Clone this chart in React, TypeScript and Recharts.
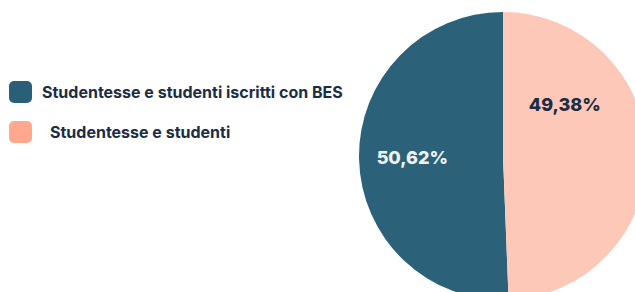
import { Cell, Pie, PieChart } from 'recharts'

const CATEGORIES = ['Studentesse e studenti iscritti con BES', 'Studentesse e studenti']
const SHARES = [50.62, 49.38]
const COLORS = ['#2b627a', '#fec8b8']
const SWATCHES = ['#2b5f78', '#ffa88e']
const LABEL_COLORS = ['#f2f2f2', '#1b2d45']

const data = CATEGORIES.map((name, i) => ({ name, value: SHARES[i] }))

const RAD = Math.PI / 180
const fmt = (v: number) => v.toFixed(2).replace('.', ',') + '%'

function renderLabel(props: any) {
  const { cx, cy, midAngle, outerRadius, index, value } = props
  // the light slice's label sits up and to the right, not on the mid angle
  const angle = index === 0 ? midAngle : 40
  const r = outerRadius * (index === 0 ? 0.63 : 0.56)
  const x = cx + r * Math.cos(angle * RAD)
  const y = cy - r * Math.sin(angle * RAD)
  return (
    <text
      x={x}
      y={y}
      textAnchor="middle"
      dominantBaseline="central"
      fill={LABEL_COLORS[index]}
      fontSize={18}
      fontWeight={800}
      fontFamily="Inter, sans-serif"
    >
      {fmt(value)}
    </text>
  )
}

function LegendList() {
  return (
    <div style={{ position: 'absolute', left: 9, top: 81, fontFamily: 'Inter, sans-serif' }}>
      {CATEGORIES.map((name, i) => (
        <div key={name} style={{ display: 'flex', alignItems: 'center', height: 22, marginBottom: 18 }}>
          <span
            style={{
              width: 23,
              height: 22,
              borderRadius: 5,
              background: SWATCHES[i],
              marginRight: i === 0 ? 10 : 18,
              flexShrink: 0,
            }}
          />
          <span style={{ fontSize: 16, fontWeight: 700, color: '#1b2d45', whiteSpace: 'nowrap' }}>{name}</span>
        </div>
      ))}
    </div>
  )
}

export default function App() {
  return (
    <div style={{ position: 'relative', width: 635, height: 292, overflow: 'hidden' }}>
      <style>{'body{margin:0;background:#fff}'}</style>
      <PieChart width={635} height={292} margin={{ top: 0, right: 0, bottom: 0, left: 0 }}>
        <Pie
          data={data}
          dataKey="value"
          nameKey="name"
          cx={503}
          cy={156}
          outerRadius={144}
          startAngle={90}
          endAngle={450}
          stroke="none"
          label={renderLabel}
          labelLine={false}
          isAnimationActive={false}
        >
          {data.map((d, i) => (
            <Cell key={d.name} fill={COLORS[i]} />
          ))}
        </Pie>
      </PieChart>
      <LegendList />
    </div>
  )
}
